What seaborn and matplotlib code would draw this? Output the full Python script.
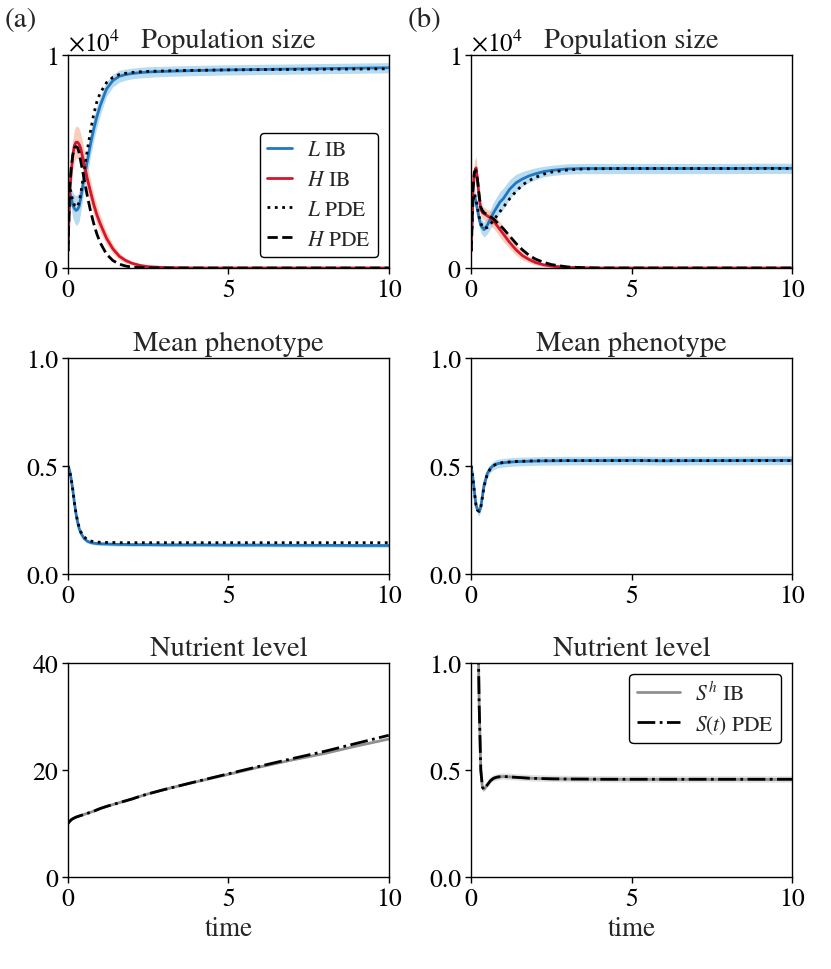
import numpy as np
import pandas as pd
import matplotlib
matplotlib.use("Agg")
import matplotlib.pyplot as plt
import seaborn as sns
from matplotlib.ticker import ScalarFormatter

# ---------------- data ----------------
time = [0, 0.05, 0.1, 0.15, 0.2, 0.25, 0.3, 0.35, 0.4, 0.5, 0.6, 0.7, 0.8, 0.9, 1.0,
        1.2, 1.4, 1.6, 1.8, 2.0, 2.25, 2.5, 3, 3.5, 4, 5, 6, 7, 8, 9, 10]

# (a) population size (x 1e4)
popA_L_IB = [0.08, 0.36, 0.33, 0.295, 0.28, 0.27, 0.275, 0.29, 0.33, 0.42, 0.50, 0.58, 0.65, 0.71, 0.76,
             0.84, 0.88, 0.90, 0.908, 0.913, 0.917, 0.920, 0.923, 0.925, 0.927, 0.930, 0.932, 0.934, 0.936, 0.938, 0.940]
popA_L_PDE = [0.08, 0.38, 0.35, 0.315, 0.295, 0.285, 0.29, 0.31, 0.35, 0.45, 0.55, 0.64, 0.72, 0.78, 0.82,
              0.87, 0.895, 0.908, 0.914, 0.918, 0.921, 0.923, 0.925, 0.927, 0.928, 0.930, 0.931, 0.932, 0.933, 0.934, 0.935]
popA_L_band = [0.02, 0.04, 0.05, 0.06, 0.065, 0.07, 0.07, 0.07, 0.065, 0.06, 0.06, 0.06, 0.055, 0.05, 0.045,
               0.035, 0.03, 0.028, 0.026, 0.025, 0.025, 0.025, 0.024, 0.024, 0.024, 0.024, 0.024, 0.024, 0.024, 0.024, 0.024]
popA_H_IB = [0.08, 0.35, 0.45, 0.53, 0.575, 0.59, 0.59, 0.58, 0.56, 0.49, 0.42, 0.36, 0.30, 0.25, 0.21,
             0.14, 0.09, 0.055, 0.035, 0.022, 0.012, 0.006, 0.002, 0.001, 0, 0, 0, 0, 0, 0, 0]
popA_H_PDE = [0.08, 0.37, 0.47, 0.53, 0.565, 0.57, 0.565, 0.54, 0.50, 0.42, 0.34, 0.27, 0.21, 0.16, 0.12,
              0.065, 0.035, 0.018, 0.009, 0.004, 0.002, 0.001, 0, 0, 0, 0, 0, 0, 0, 0, 0]
popA_H_band = [0.02, 0.05, 0.06, 0.07, 0.075, 0.075, 0.075, 0.075, 0.07, 0.065, 0.06, 0.055, 0.05, 0.045, 0.04,
               0.03, 0.022, 0.016, 0.012, 0.008, 0.006, 0.004, 0.002, 0.001, 0.0005, 0, 0, 0, 0, 0, 0]

# (b) population size (x 1e4)
popB_L_IB = [0.08, 0.30, 0.34, 0.31, 0.27, 0.23, 0.20, 0.19, 0.18, 0.20, 0.23, 0.26, 0.285, 0.31, 0.325,
             0.37, 0.40, 0.418, 0.432, 0.442, 0.452, 0.458, 0.465, 0.467, 0.467, 0.467, 0.467, 0.467, 0.467, 0.468, 0.468]
popB_L_PDE = [0.08, 0.30, 0.35, 0.32, 0.28, 0.24, 0.21, 0.195, 0.185, 0.19, 0.205, 0.225, 0.245, 0.265, 0.285,
              0.325, 0.36, 0.39, 0.41, 0.425, 0.44, 0.45, 0.46, 0.465, 0.466, 0.467, 0.467, 0.467, 0.467, 0.467, 0.467]
popB_L_band = [0.02, 0.03, 0.035, 0.035, 0.035, 0.035, 0.035, 0.035, 0.035, 0.04, 0.045, 0.05, 0.05, 0.05, 0.05,
               0.045, 0.04, 0.035, 0.03, 0.028, 0.025, 0.024, 0.024, 0.024, 0.024, 0.024, 0.024, 0.024, 0.024, 0.024, 0.024]
popB_H_IB = [0.08, 0.35, 0.45, 0.47, 0.41, 0.33, 0.275, 0.26, 0.255, 0.245, 0.235, 0.22, 0.20, 0.18, 0.16,
             0.12, 0.085, 0.058, 0.04, 0.026, 0.015, 0.009, 0.003, 0.001, 0, 0, 0, 0, 0, 0, 0]
popB_H_PDE = [0.08, 0.36, 0.45, 0.46, 0.41, 0.34, 0.285, 0.27, 0.26, 0.25, 0.24, 0.23, 0.215, 0.20, 0.185,
              0.15, 0.115, 0.085, 0.06, 0.042, 0.027, 0.016, 0.005, 0.0015, 0, 0, 0, 0, 0, 0, 0]
popB_H_band = [0.02, 0.04, 0.05, 0.055, 0.05, 0.04, 0.035, 0.03, 0.03, 0.03, 0.035, 0.035, 0.035, 0.035, 0.035,
               0.03, 0.025, 0.02, 0.015, 0.012, 0.008, 0.006, 0.003, 0.001, 0.0005, 0, 0, 0, 0, 0, 0]

# mean phenotype
phA_IB = [0.5, 0.48, 0.44, 0.39, 0.33, 0.28, 0.24, 0.21, 0.19, 0.165, 0.152, 0.146, 0.143, 0.141, 0.14,
          0.139, 0.138, 0.137, 0.137, 0.136, 0.136, 0.136, 0.135, 0.135, 0.135, 0.134, 0.134, 0.133, 0.133, 0.132, 0.132]
phA_PDE = [0.5, 0.48, 0.44, 0.39, 0.33, 0.28, 0.245, 0.215, 0.195, 0.172, 0.16, 0.153, 0.15, 0.148, 0.147,
           0.146, 0.146, 0.145, 0.145, 0.145, 0.145, 0.145, 0.145, 0.145, 0.145, 0.145, 0.145, 0.145, 0.145, 0.145, 0.145]
phA_band = [0.0, 0.005, 0.006, 0.007, 0.008, 0.008, 0.008, 0.008, 0.008, 0.008, 0.008, 0.008, 0.008, 0.008, 0.008,
            0.008, 0.008, 0.008, 0.008, 0.008, 0.008, 0.008, 0.008, 0.008, 0.008, 0.008, 0.008, 0.008, 0.008, 0.008, 0.008]
phB_IB = [0.5, 0.45, 0.38, 0.32, 0.295, 0.29, 0.31, 0.36, 0.41, 0.465, 0.49, 0.503, 0.51, 0.513, 0.515,
          0.518, 0.52, 0.521, 0.522, 0.523, 0.524, 0.524, 0.525, 0.525, 0.525, 0.526, 0.524, 0.525, 0.525, 0.526, 0.526]
phB_PDE = [0.5, 0.45, 0.38, 0.32, 0.295, 0.29, 0.31, 0.355, 0.405, 0.46, 0.488, 0.502, 0.51, 0.514, 0.516,
           0.519, 0.521, 0.522, 0.523, 0.524, 0.524, 0.525, 0.525, 0.525, 0.525, 0.525, 0.525, 0.525, 0.525, 0.525, 0.525]
phB_band = [0.0, 0.01, 0.015, 0.02, 0.02, 0.02, 0.02, 0.02, 0.02, 0.02, 0.02, 0.02, 0.02, 0.02, 0.02,
            0.02, 0.02, 0.02, 0.02, 0.02, 0.02, 0.02, 0.02, 0.02, 0.02, 0.02, 0.02, 0.02, 0.02, 0.02, 0.02]

# nutrient level
nuA_IB = [10.0, 10.4, 10.7, 10.9, 11.05, 11.2, 11.3, 11.4, 11.5, 11.7, 11.9, 12.1, 12.3, 12.55, 12.8,
          13.2, 13.55, 13.9, 14.25, 14.6, 15.1, 15.55, 16.35, 17.1, 17.8, 19.2, 20.6, 21.9, 23.1, 24.5, 25.8]
nuA_PDE = [10.0, 10.4, 10.7, 10.9, 11.05, 11.2, 11.3, 11.4, 11.5, 11.7, 11.9, 12.1, 12.3, 12.55, 12.8,
           13.2, 13.55, 13.9, 14.25, 14.6, 15.1, 15.55, 16.35, 17.1, 17.85, 19.3, 20.75, 22.15, 23.5, 25.0, 26.5]
nuA_band = [0.1] * 31
nuB_IB = [10.0, 6.0, 3.5, 2.2, 1.3, 0.8, 0.5, 0.42, 0.41, 0.43, 0.45, 0.46, 0.465, 0.468, 0.47,
          0.468, 0.466, 0.464, 0.462, 0.461, 0.46, 0.459, 0.458, 0.457, 0.457, 0.456, 0.456, 0.456, 0.456, 0.456, 0.456]
nuB_PDE = [10.0, 6.0, 3.5, 2.2, 1.3, 0.8, 0.5, 0.42, 0.41, 0.43, 0.45, 0.462, 0.467, 0.469, 0.47,
           0.468, 0.466, 0.464, 0.462, 0.461, 0.46, 0.459, 0.458, 0.458, 0.457, 0.457, 0.457, 0.457, 0.457, 0.457, 0.457]
nuB_band = [0.015] * 31

# ---------------- style ----------------
sns.set_style("ticks")
plt.rcParams["font.family"] = ["STIXGeneral", "DejaVu Serif"]
plt.rcParams["mathtext.fontset"] = "stix"
plt.rcParams["font.size"] = 18
plt.rcParams["axes.linewidth"] = 1.0
plt.rcParams["axes.edgecolor"] = "black"
plt.rcParams["xtick.color"] = "black"
plt.rcParams["ytick.color"] = "black"

BLUE = "#1f78c1"
RED = "#d7142e"
BLUE_F = "#7fbfe3"
RED_F = "#f4a582"
GRAY = "#909090"
GRAY_F = "#c8c8c8"
TITLE_FS = 20.5

fig = plt.figure(figsize=(8.31, 9.70), dpi=100)
W = 0.386
xs = [0.0818, 0.567]
rows = [(0.7227, 0.2196), (0.4072, 0.2227), (0.0948, 0.2206)]
axes = [[fig.add_axes([x, b, W, h]) for x in xs] for (b, h) in rows]

t = np.array(time)
SCALE = 1e4


def band(ax, mean, half, color, scale=1.0):
    m = np.array(mean) * scale
    hw = np.array(half) * scale
    ax.fill_between(t, m - hw, m + hw, color=color, alpha=0.55, lw=0)


def line(ax, y, color, ls, lw, label, scale=1.0):
    df = pd.DataFrame({"time": t, "y": np.array(y) * scale})
    sns.lineplot(data=df, x="time", y="y", ax=ax, color=color, linestyle=ls, lw=lw,
                 label=label, legend=False)


# population panels
for ax, (LI, LP, LB, HI, HP, HB) in zip(
        axes[0],
        [(popA_L_IB, popA_L_PDE, popA_L_band, popA_H_IB, popA_H_PDE, popA_H_band),
         (popB_L_IB, popB_L_PDE, popB_L_band, popB_H_IB, popB_H_PDE, popB_H_band)]):
    band(ax, LI, LB, BLUE_F, SCALE)
    band(ax, HI, HB, RED_F, SCALE)
    line(ax, LI, BLUE, "-", 2.0, r"$L$ IB", SCALE)
    line(ax, HI, RED, "-", 2.0, r"$H$ IB", SCALE)
    line(ax, LP, "black", ":", 2.0, r"$L$ PDE", SCALE)
    line(ax, HP, "black", "--", 2.0, r"$H$ PDE", SCALE)
    ax.set_ylim(0, 1e4)
    ax.set_yticks([0, 1e4])
    fmt = ScalarFormatter(useMathText=True)
    fmt.set_powerlimits((0, 0))
    ax.yaxis.set_major_formatter(fmt)
    ax.yaxis.get_offset_text().set_fontsize(18)
    ax.set_title("Population size", pad=6, fontsize=TITLE_FS)

axes[0][0].legend(loc="lower right", frameon=True,
                  edgecolor="black", fancybox=True, framealpha=1, fontsize=15.5,
                  handlelength=1.15, handletextpad=0.7, borderpad=0.35, labelspacing=0.45,
                  borderaxespad=0.5)

# mean phenotype
for ax, (I, P, B) in zip(axes[1], [(phA_IB, phA_PDE, phA_band), (phB_IB, phB_PDE, phB_band)]):
    band(ax, I, B, BLUE_F)
    line(ax, I, BLUE, "-", 2.0, r"$L$ IB")
    line(ax, P, "black", ":", 2.0, r"$L$ PDE")
    ax.set_ylim(0, 1)
    ax.set_yticks([0, 0.5, 1.0])
    ax.set_title("Mean phenotype", pad=6, fontsize=TITLE_FS)

# nutrient level
for ax, (I, P, B) in zip(axes[2], [(nuA_IB, nuA_PDE, nuA_band), (nuB_IB, nuB_PDE, nuB_band)]):
    band(ax, I, B, GRAY_F)
    line(ax, I, GRAY, "-", 2.0, r"$S^h$ IB")
    line(ax, P, "black", "-.", 2.0, r"$S(t)$ PDE")
    ax.set_title("Nutrient level", pad=6, fontsize=TITLE_FS)
axes[2][0].set_ylim(0, 40)
axes[2][0].set_yticks([0, 20, 40])
axes[2][1].set_ylim(0, 1)
axes[2][1].set_yticks([0, 0.5, 1.0])
axes[2][1].legend(loc="upper right", frameon=True,
                  edgecolor="black", fancybox=True, framealpha=1, fontsize=15.5,
                  handlelength=2.0, handletextpad=0.7, borderpad=0.35, labelspacing=0.4,
                  borderaxespad=0.5)

for r, row in enumerate(axes):
    for ax in row:
        ax.set_xlim(0, 10)
        ax.set_xticks([0, 5, 10])
        ax.tick_params(direction="out", length=4, width=1, labelsize=18.5, pad=3)
        for s in ax.spines.values():
            s.set_visible(True)
            s.set_color("black")
        ax.set_ylabel("")
        ax.set_xlabel("time" if r == 2 else "", fontsize=19.5, labelpad=4)

fig.text(0.005, 0.992, "(a)", fontsize=21, va="top", ha="left")
fig.text(0.490, 0.992, "(b)", fontsize=21, va="top", ha="left")

fig.savefig("out.png", dpi=100)
